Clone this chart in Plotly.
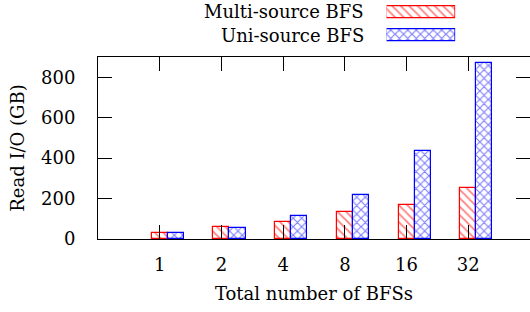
import plotly.graph_objects as go

categories = ["1", "2", "4", "8", "16", "32"]
multi_source = [28, 61, 84, 132, 166, 252]
uni_source = [28, 56, 113, 219, 436, 868]
series_names = ["Multi-source BFS", "Uni-source BFS"]
y_ticks = [0, 200, 400, 600, 800]

FONT = "DejaVu Serif, serif"
FS = 18
RED = "#ff0000"
BLUE = "#0000ff"

red_pat = dict(shape="\\", fgcolor=RED, bgcolor="white", size=6, solidity=0.3)
blue_pat = dict(shape="x", fgcolor=BLUE, bgcolor="white", size=6, solidity=0.35)

fig = go.Figure()
fig.add_trace(go.Bar(
    x=categories, y=multi_source, name=series_names[0],
    width=0.26, offset=-0.13,
    marker=dict(color="white", line=dict(color=RED, width=1.2), pattern=red_pat),
    showlegend=False,
))
fig.add_trace(go.Bar(
    x=categories, y=uni_source, name=series_names[1],
    width=0.26, offset=0.13,
    marker=dict(color="white", line=dict(color=BLUE, width=1.2), pattern=blue_pat),
    showlegend=False,
))

# legend samples (horizontal bars on a small auxiliary axis)
fig.add_trace(go.Bar(
    x=[1], y=[1], orientation="h", xaxis="x2", yaxis="y2", width=0.53,
    marker=dict(color="white", line=dict(color=RED, width=1.2), pattern=red_pat),
    showlegend=False, hoverinfo="skip",
))
fig.add_trace(go.Bar(
    x=[1], y=[0], orientation="h", xaxis="x2", yaxis="y2", width=0.53,
    marker=dict(color="white", line=dict(color=BLUE, width=1.2), pattern=blue_pat),
    showlegend=False, hoverinfo="skip",
))

axis_common = dict(
    showline=True, linecolor="black", linewidth=1, mirror="ticks",
    ticks="inside", ticklen=14, tickcolor="black", tickwidth=1,
    showgrid=False, zeroline=False,
    tickfont=dict(family=FONT, size=FS, color="black"),
    title_font=dict(family=FONT, size=FS, color="black"),
)

fig.update_layout(
    width=530, height=312,
    margin=dict(l=98, r=0, t=0, b=73),
    paper_bgcolor="white", plot_bgcolor="white",
    bargap=0, barmode="overlay",
    xaxis=dict(axis_common, type="category", range=[-1, 6], ticklabelstandoff=9,
               title=dict(text="Total number of BFSs", standoff=13)),
    yaxis=dict(axis_common, range=[0, 900], tickvals=y_ticks, domain=[0, 0.7615],
               ticklabelstandoff=18,
               title=dict(text="Read I/O (GB)", standoff=11)),
    xaxis2=dict(domain=[0.668, 0.827], range=[0, 1], visible=False, anchor="y2"),
    yaxis2=dict(domain=[0.8023, 0.999], range=[-0.5, 1.5], visible=False, anchor="x2"),
    annotations=[
        dict(text=series_names[0], xref="paper", yref="paper", x=0.62, y=0.950,
             xanchor="right", yanchor="middle", showarrow=False,
             font=dict(family=FONT, size=FS, color="black")),
        dict(text=series_names[1], xref="paper", yref="paper", x=0.62, y=0.8515,
             xanchor="right", yanchor="middle", showarrow=False,
             font=dict(family=FONT, size=FS, color="black")),
    ],
)

fig.write_html("out.html", config={"displayModeBar": False},
               post_script="document.body.style.margin='0';")
